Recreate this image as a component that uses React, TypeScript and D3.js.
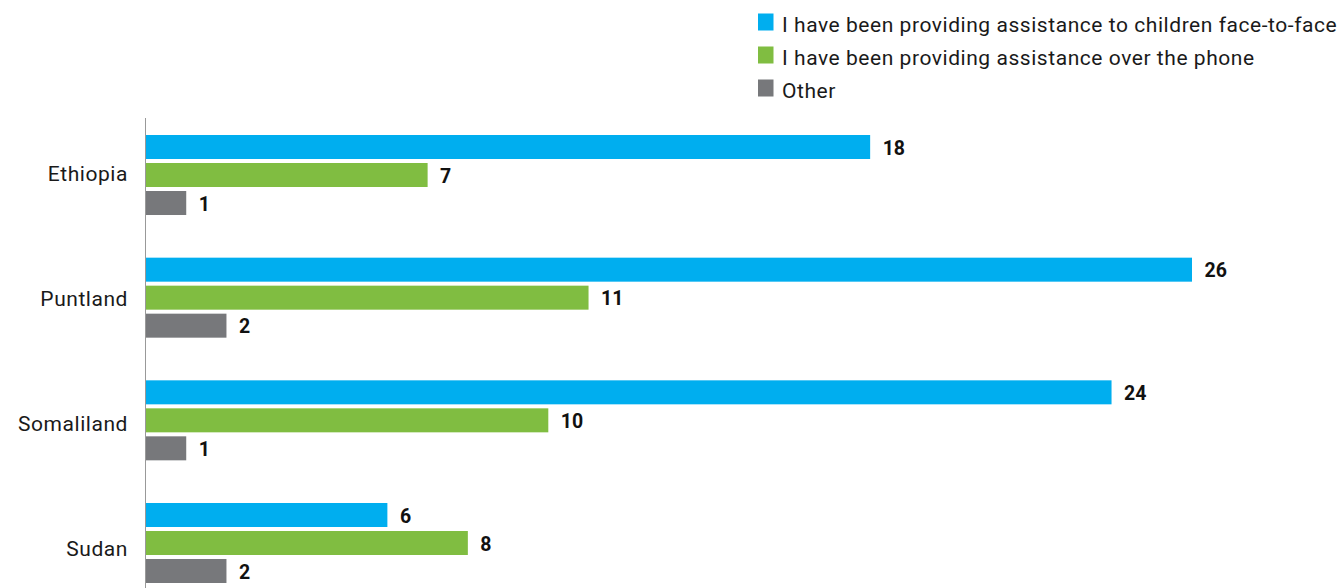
import React from "react";
import * as d3 from "d3";

const countries = ["Ethiopia", "Puntland", "Somaliland", "Sudan"];
const seriesNames = [
  "I have been providing assistance to children face-to-face",
  "I have been providing assistance over the phone",
  "Other",
];
const faceToFace = [18, 26, 24, 6];
const phone = [7, 11, 10, 8];
const other = [1, 2, 1, 2];
const colors = ["#00AEEF", "#80BD41", "#77787B"];

const W = 1343;
const H = 588;

export default function App() {
  const values = [faceToFace, phone, other];
  const x = d3.scaleLinear().domain([0, 26]).range([146, 1192]);
  const y0 = d3
    .scaleBand<string>()
    .domain(countries)
    .range([113.67, 604.33])
    .paddingInner(0)
    .paddingOuter(0);
  const y1 = d3
    .scaleBand<string>()
    .domain(seriesNames)
    .range([0, 80])
    .paddingInner(1 / 7)
    .paddingOuter(0);
  const labelY = d3.scalePoint<string>().domain(countries).range([180.7, 555.7]);
  const legendY = d3.scalePoint<string>().domain(seriesNames).range([13.5, 79.5]);
  const font = "Roboto, 'Liberation Sans', Arial, sans-serif";
  return (
    <svg
      width={W}
      height={H}
      style={{ position: "absolute", left: 0, top: 0, background: "#fff" }}
      fontFamily={font}
    >
      {/* legend */}
      {seriesNames.map((s, i) => (
        <g key={s} transform={`translate(758, ${legendY(s)})`}>
          <rect width={15.5} height={17} fill={colors[i]} />
          <text x={24} y={18} fontSize={21} letterSpacing={0.55} fill="#1a1a1a">
            {s}
          </text>
        </g>
      ))}
      {/* bars */}
      {countries.map((c, ci) => {
        const center = (y0(c) as number) + y0.bandwidth() / 2;
        const top = center - 40;
        return (
          <g key={c}>
            <text
              x={128}
              y={labelY(c)}
              textAnchor="end"
              fontSize={21}
              letterSpacing={0.55}
              fill="#1a1a1a"
            >
              {c}
            </text>
            {seriesNames.map((s, si) => {
              const v = values[si][ci];
              const by = top + (y1(s) as number);
              return (
                <g key={s}>
                  <rect
                    x={x(0)}
                    y={by}
                    width={x(v) - x(0)}
                    height={y1.bandwidth()}
                    fill={colors[si]}
                  />
                  <text
                    x={x(v) + 12.5}
                    y={by + y1.bandwidth() / 2 + 7.7}
                    fontSize={19.5}
                    fontWeight="bold"
                    fill="#111"
                  >
                    {v}
                  </text>
                </g>
              );
            })}
          </g>
        );
      })}
      <line x1={145.5} x2={145.5} y1={118} y2={H} stroke="#999" strokeWidth={1} />
    </svg>
  );
}
